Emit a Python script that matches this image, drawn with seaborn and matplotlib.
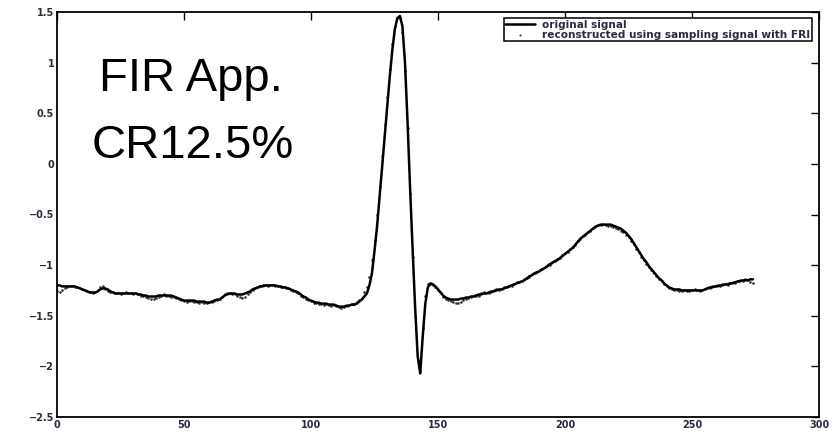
import numpy as np
import pandas as pd
import matplotlib
matplotlib.use("Agg")
import matplotlib.pyplot as plt
import seaborn as sns

# ECG beat, one value per sample (0..274)
original_signal = [
    -1.20, -1.20, -1.21, -1.21, -1.21, -1.21, -1.21, -1.21, -1.22, -1.23,
    -1.24, -1.25, -1.26, -1.27, -1.27, -1.27, -1.26, -1.24, -1.23, -1.23,
    -1.24, -1.26, -1.27, -1.28, -1.28, -1.28, -1.28, -1.28, -1.28, -1.28,
    -1.28, -1.28, -1.29, -1.29, -1.30, -1.30, -1.31, -1.31, -1.31, -1.31,
    -1.30, -1.30, -1.30, -1.30, -1.30, -1.30, -1.31, -1.32, -1.33, -1.34,
    -1.35, -1.35, -1.35, -1.35, -1.35, -1.36, -1.36, -1.36, -1.36, -1.37,
    -1.37, -1.36, -1.35, -1.34, -1.34, -1.32, -1.30, -1.29, -1.28, -1.28,
    -1.28, -1.29, -1.29, -1.29, -1.28, -1.27, -1.26, -1.24, -1.23, -1.22,
    -1.21, -1.21, -1.20, -1.20, -1.20, -1.20, -1.20, -1.21, -1.21, -1.22,
    -1.22, -1.23, -1.24, -1.25, -1.26, -1.27, -1.29, -1.31, -1.32, -1.34,
    -1.35, -1.36, -1.37, -1.37, -1.38, -1.38, -1.38, -1.39, -1.39, -1.39,
    -1.40, -1.41, -1.41, -1.41, -1.40, -1.40, -1.39, -1.39, -1.38, -1.36,
    -1.34, -1.31, -1.28, -1.20, -1.08, -0.86, -0.62, -0.33, -0.03, 0.27,
    0.58, 0.86, 1.12, 1.33, 1.44, 1.46, 1.36, 1.00, 0.42, -0.23,
    -0.84, -1.42, -1.90, -2.07, -1.70, -1.38, -1.22, -1.18, -1.19, -1.21,
    -1.24, -1.27, -1.30, -1.32, -1.33, -1.34, -1.34, -1.34, -1.34, -1.33,
    -1.33, -1.32, -1.32, -1.31, -1.31, -1.30, -1.29, -1.29, -1.28, -1.28,
    -1.27, -1.26, -1.26, -1.25, -1.24, -1.24, -1.23, -1.22, -1.21, -1.20,
    -1.19, -1.18, -1.17, -1.16, -1.15, -1.13, -1.11, -1.10, -1.08, -1.07,
    -1.06, -1.04, -1.03, -1.01, -0.99, -0.98, -0.96, -0.95, -0.93, -0.91,
    -0.89, -0.87, -0.85, -0.83, -0.80, -0.77, -0.74, -0.72, -0.70, -0.68,
    -0.66, -0.64, -0.62, -0.61, -0.60, -0.60, -0.60, -0.60, -0.60, -0.61,
    -0.62, -0.63, -0.64, -0.66, -0.68, -0.71, -0.74, -0.78, -0.82, -0.86,
    -0.90, -0.94, -0.97, -1.01, -1.04, -1.07, -1.10, -1.13, -1.15, -1.18,
    -1.20, -1.22, -1.23, -1.24, -1.24, -1.24, -1.25, -1.25, -1.25, -1.25,
    -1.25, -1.25, -1.25, -1.25, -1.25, -1.24, -1.23, -1.22, -1.22, -1.21,
    -1.21, -1.20, -1.20, -1.19, -1.19, -1.18, -1.18, -1.17, -1.16, -1.16,
    -1.15, -1.15, -1.15, -1.14, -1.14,
]

# Same beat rebuilt from the FRI samples
reconstructed_signal = [
    -1.26, -1.27, -1.25, -1.23, -1.22, -1.21, -1.21, -1.22, -1.22, -1.23,
    -1.24, -1.25, -1.26, -1.27, -1.28, -1.27, -1.25, -1.22, -1.21, -1.24,
    -1.26, -1.27, -1.27, -1.28, -1.28, -1.29, -1.28, -1.27, -1.28, -1.28,
    -1.29, -1.28, -1.29, -1.30, -1.30, -1.31, -1.32, -1.33, -1.33, -1.32,
    -1.31, -1.30, -1.29, -1.30, -1.30, -1.31, -1.31, -1.32, -1.33, -1.34,
    -1.35, -1.36, -1.35, -1.35, -1.36, -1.36, -1.37, -1.36, -1.37, -1.37,
    -1.36, -1.36, -1.35, -1.34, -1.33, -1.31, -1.29, -1.28, -1.28, -1.29,
    -1.29, -1.30, -1.31, -1.32, -1.31, -1.29, -1.27, -1.25, -1.23, -1.22,
    -1.21, -1.20, -1.20, -1.21, -1.20, -1.20, -1.21, -1.21, -1.22, -1.22,
    -1.23, -1.23, -1.25, -1.26, -1.27, -1.28, -1.30, -1.31, -1.33, -1.34,
    -1.35, -1.37, -1.37, -1.38, -1.38, -1.39, -1.38, -1.39, -1.40, -1.39,
    -1.40, -1.41, -1.42, -1.41, -1.40, -1.39, -1.38, -1.38, -1.36, -1.34,
    -1.32, -1.27, -1.22, -1.12, -0.95, -0.75, -0.50, -0.22, 0.08, 0.38,
    0.66, 0.94, 1.18, 1.36, 1.44, 1.44, 1.30, 0.92, 0.35, -0.30,
    -0.92, -1.50, -1.94, -2.05, -1.62, -1.30, -1.19, -1.19, -1.20, -1.22,
    -1.25, -1.28, -1.31, -1.33, -1.34, -1.35, -1.36, -1.37, -1.37, -1.36,
    -1.34, -1.33, -1.32, -1.31, -1.30, -1.30, -1.30, -1.28, -1.27, -1.28,
    -1.28, -1.27, -1.25, -1.24, -1.25, -1.24, -1.22, -1.22, -1.21, -1.21,
    -1.19, -1.17, -1.17, -1.16, -1.14, -1.13, -1.12, -1.09, -1.08, -1.07,
    -1.05, -1.04, -1.02, -1.01, -1.00, -0.97, -0.96, -0.94, -0.93, -0.90,
    -0.88, -0.87, -0.84, -0.82, -0.80, -0.76, -0.74, -0.71, -0.70, -0.67,
    -0.66, -0.63, -0.62, -0.60, -0.60, -0.59, -0.60, -0.61, -0.61, -0.62,
    -0.63, -0.64, -0.66, -0.67, -0.70, -0.72, -0.76, -0.79, -0.84, -0.87,
    -0.92, -0.95, -0.99, -1.02, -1.05, -1.08, -1.11, -1.14, -1.16, -1.19,
    -1.21, -1.23, -1.24, -1.25, -1.25, -1.26, -1.26, -1.25, -1.26, -1.26,
    -1.25, -1.24, -1.25, -1.26, -1.25, -1.24, -1.23, -1.23, -1.21, -1.21,
    -1.20, -1.21, -1.19, -1.19, -1.20, -1.18, -1.17, -1.18, -1.16, -1.15,
    -1.16, -1.14, -1.15, -1.17, -1.18,
]

x_ticks = [0, 50, 100, 150, 200, 250, 300]
y_ticks = [-2.5, -2, -1.5, -1, -0.5, 0, 0.5, 1, 1.5]
y_tick_labels = ["\u22122.5", "\u22122", "\u22121.5", "\u22121", "\u22120.5",
                 "0", "0.5", "1", "1.5"]
legend_labels = ["original signal",
                 "reconstructed using sampling signal with FRI"]
annotation_lines = ["FIR App.", "CR12.5%"]

samples = np.arange(len(original_signal))
df = pd.DataFrame({
    "n": samples,
    "original": original_signal,
    "reconstructed": reconstructed_signal,
})

sns.set_theme(style="white")
plt.rcParams["font.family"] = ["DejaVu Sans"]

W, H = 835, 432
fig = plt.figure(figsize=(W / 100, H / 100), dpi=100)
ax = fig.add_axes([57 / W, 1 - 417 / H, (819 - 57) / W, (417 - 12) / H])
ax.set_facecolor("white")

sns.lineplot(data=df, x="n", y="original", ax=ax, color="black",
             linewidth=1.8, label=legend_labels[0], sort=False)
sns.scatterplot(data=df, x="n", y="reconstructed", ax=ax, color="#333333",
                marker=".", s=14, linewidth=0, label=legend_labels[1])

ax.set_xlim(0, 300)
ax.set_ylim(-2.5, 1.5)
ax.set_xticks(x_ticks)
ax.set_xticklabels([str(v) for v in x_ticks])
ax.set_yticks(y_ticks)
ax.set_yticklabels(y_tick_labels)
ax.set_xlabel("")
ax.set_ylabel("")

for sp in ax.spines.values():
    sp.set_visible(True)
    sp.set_color("black")
    sp.set_linewidth(1.3)

ax.tick_params(axis="both", which="major", direction="in", length=6,
               width=1.0, color="black", top=True, right=True,
               labelsize=7, labelcolor="#2b2b3d", pad=2)
for lab in ax.get_xticklabels() + ax.get_yticklabels():
    lab.set_fontweight("bold")

leg = ax.legend(loc="upper right", bbox_to_anchor=(0.991, 0.985),
                borderaxespad=0, fontsize=7.6, frameon=True, fancybox=False,
                edgecolor="black", framealpha=1, labelspacing=0.0,
                borderpad=0.15, handlelength=2.8, handletextpad=0.7,
                markerscale=0.8)
leg.get_frame().set_linewidth(1.1)
for t in leg.get_texts():
    t.set_fontweight("bold")
    t.set_color("#2b2b3d")

# Large overlay annotation
fig.text(191 / W, 1 - 91 / H, annotation_lines[0], ha="center",
         va="baseline", fontsize=34, family=["Liberation Sans", "DejaVu Sans"],
         color="black")
fig.text(193 / W, 1 - 158 / H, annotation_lines[1], ha="center",
         va="baseline", fontsize=34, family=["Liberation Sans", "DejaVu Sans"],
         color="black")

fig.savefig("out.png", dpi=100, facecolor="white")
